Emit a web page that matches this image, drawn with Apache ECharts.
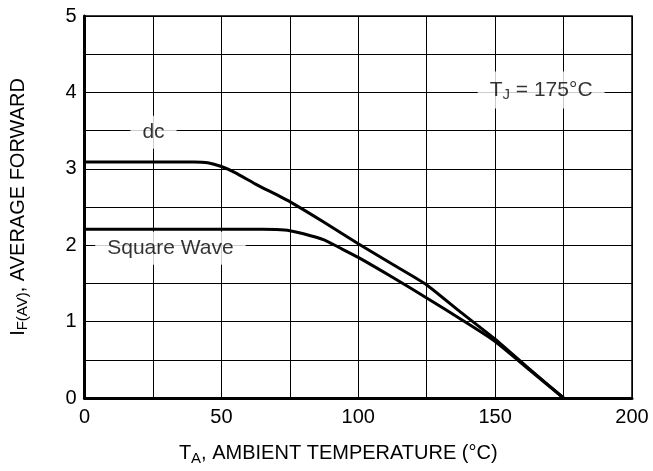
<!DOCTYPE html>
<html>
<head>
<meta charset="utf-8">
<script src="https://cdn.jsdelivr.net/npm/echarts@6/dist/echarts.min.js"></script>
<style>html,body{margin:0;padding:0;background:#fff}#c{width:653px;height:471px}</style>
</head>
<body>
<div id="c"></div>
<script>
// Data
const dcTemp = [0, 10, 20, 30, 40, 45, 50, 55, 62.5, 75, 87.5, 100, 112.5, 125, 137.5, 150, 162.5, 175];
const dcCurrent = [3.09, 3.09, 3.09, 3.09, 3.09, 3.08, 3.03, 2.95, 2.80, 2.57, 2.30, 2.02, 1.75, 1.48, 1.12, 0.77, 0.38, 0];
const sqTemp = [0, 10, 20, 30, 40, 50, 60, 65, 70, 75, 80, 87.5, 93, 100, 112.5, 125, 137.5, 150, 162.5, 175];
const sqCurrent = [2.21, 2.21, 2.21, 2.21, 2.21, 2.21, 2.21, 2.21, 2.205, 2.19, 2.15, 2.07, 1.97, 1.84, 1.58, 1.31, 1.03, 0.74, 0.37, 0];
const xTicks = [0, 50, 100, 150, 200];
const yTicks = [0, 1, 2, 3, 4, 5];
const annotations = [
  { x: 25.2, y: 3.48, text: 'dc' },
  { x: 31.4, y: 1.96, text: 'Square Wave' },
  { x: 166.8, y: 4.03, text: 'T{sub|J} = 175°C' }
];

const FONT = 'Liberation Sans, Arial, Helvetica, sans-serif';
const toPairs = (xs, ys) => xs.map((x, i) => [x, ys[i]]);

const chart = echarts.init(document.getElementById('c'), null, { renderer: 'canvas' });
chart.setOption({
  backgroundColor: '#fff',
  animation: false,
  grid: { left: 84, right: 21, top: 16, bottom: 70, show: true, borderColor: '#000', borderWidth: 1.5, backgroundColor: 'transparent' },
  xAxis: {
    type: 'value', min: 0, max: 200, interval: 25,
    axisLine: { show: true, lineStyle: { color: '#000', width: 3 } },
    axisTick: { show: false },
    splitLine: { show: true, lineStyle: { color: '#000', width: 1 } },
    axisLabel: {
      color: '#000', fontFamily: FONT, fontSize: 20, margin: 9,
      formatter: v => xTicks.includes(v) ? String(v) : ''
    },
    name: 'T{sub|A}, AMBIENT TEMPERATURE (°C)',
    nameLocation: 'middle', nameGap: 43,
    nameTextStyle: {
      color: '#000', fontFamily: FONT, fontSize: 20, padding: [0, 40, 0, 0],
      rich: { sub: { fontSize: 15, fontFamily: FONT, color: '#000', padding: [10, 0, 0, 0] } }
    }
  },
  yAxis: {
    type: 'value', min: 0, max: 5, interval: 0.5,
    axisLine: { show: true, lineStyle: { color: '#000', width: 3 } },
    axisTick: { show: false },
    splitLine: { show: true, lineStyle: { color: '#000', width: 1 } },
    axisLabel: {
      color: '#000', fontFamily: FONT, fontSize: 20, margin: 8,
      formatter: v => yTicks.includes(v) ? String(v) : ''
    },
    name: 'I{sub|F(AV)}, AVERAGE FORWARD',
    nameLocation: 'middle', nameGap: 54,
    nameTextStyle: {
      color: '#000', fontFamily: FONT, fontSize: 20, padding: [0, 0, 0, 0],
      rich: { sub: { fontSize: 15, fontFamily: FONT, color: '#000', padding: [10, 0, 0, 0] } }
    }
  },
  series: [
    {
      type: 'line', data: toPairs(dcTemp, dcCurrent), showSymbol: false, smooth: 0.2,
      lineStyle: { color: '#000', width: 3 }, z: 5
    },
    {
      type: 'line', data: toPairs(sqTemp, sqCurrent), showSymbol: false, smooth: 0.2,
      lineStyle: { color: '#000', width: 3 }, z: 5
    },
    {
      type: 'scatter', symbolSize: 0, z: 4,
      data: annotations.map(a => ({
        value: [a.x, a.y],
        label: {
          show: true, position: 'inside', formatter: a.text,
          color: '#000', fontFamily: FONT, fontSize: 21,
          backgroundColor: '#fff', padding: [6, 12, 6, 12],
          rich: { sub: { fontSize: 15, fontFamily: FONT, color: '#000', padding: [10, 0, 0, 0] } }
        }
      }))
    }
  ]
});
</script>
</body>
</html>
